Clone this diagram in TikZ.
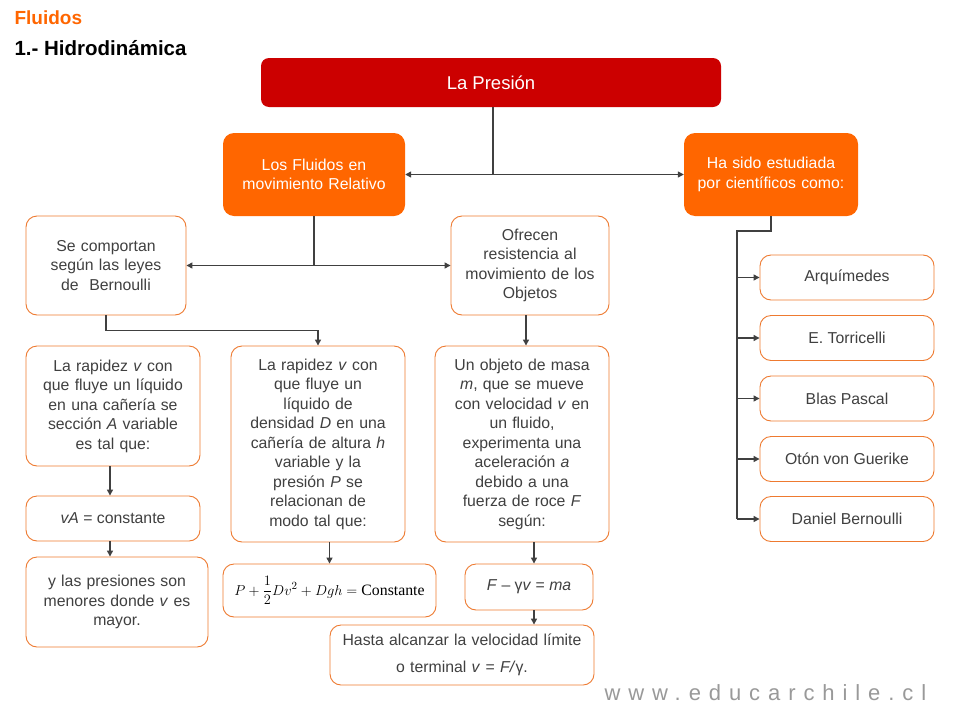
\documentclass[tikz,border=0pt]{standalone}
\usepackage{fontspec}
\usepackage{amsmath}
\setmainfont{Liberation Sans}
\newfontfamily\wmfont[LetterSpace=36]{Liberation Sans}
\newfontfamily\eqserif{Liberation Serif}
\usetikzlibrary{arrows.meta,calc}
\definecolor{orng}{HTML}{FF6600}
\definecolor{bord}{HTML}{EE7A30}
\definecolor{pred}{HTML}{CC0000}
\definecolor{txt}{HTML}{404040}
\definecolor{ln}{HTML}{404040}
\definecolor{wm}{HTML}{999999}
\tikzset{
  base/.style={rounded corners=11pt, align=center, inner sep=0pt,
    font=\fontsize{15.8}{19.5}\selectfont},
  wbox/.style={base, draw=bord, line width=0.9pt, fill=white, text=txt},
  obox/.style={base, fill=orng, text=white},
  sbox/.style={wbox, minimum width=174pt, minimum height=45pt},
  conn/.style={draw=ln, line width=1.3pt},
  arr/.style={conn, -{Triangle[length=6pt,width=6pt]}},
}
\begin{document}
\begin{tikzpicture}[x=1pt,y=-1pt]
\useasboundingbox (0,0) rectangle (960,720);
\fill[white] (0,0) rectangle (960,720);
% titles
\node[anchor=west, text=orng, font=\fontsize{19}{21}\selectfont\bfseries] (t1) at (11,18) {Fluidos};
\node[anchor=west, text=black, font=\fontsize{20.5}{22}\selectfont\bfseries] (t2) at (11,48) {1.- Hidrodinámica};
% main boxes
\node[base, fill=pred, text=white, minimum width=460pt, minimum height=49pt, rounded corners=8pt, font=\fontsize{18.5}{21}\selectfont] (pres) at (491,82.5) {La Presión};
\node[obox, minimum width=182pt, minimum height=83pt, text width=178pt] (fl) at (314,174.5) {Los Fluidos en\\movimiento Relativo};
\node[obox, minimum width=174pt, minimum height=83pt, text width=172pt] (ha) at (771,174.5) {Ha sido estudiada\\por científicos como:};
\node[wbox, minimum width=160pt, minimum height=99pt, text width=156pt] (sc) at (106,265.5) {Se comportan\\según las leyes\\de~~Bernoulli};
\node[wbox, minimum width=158pt, minimum height=99pt, text width=156pt] (of) at (530,265.5) {Ofrecen\\resistencia al\\movimiento de los\\Objetos};
\node[wbox, minimum width=174pt, minimum height=120pt, text width=172pt] (lr1) at (113,406) {La rapidez \textit{v} con\\que fluye un líquido\\en una cañería se\\sección \textit{A} variable\\es tal~que:};
\node[wbox, minimum width=174pt, minimum height=196pt, text width=172pt] (lr2) at (318,444) {La rapidez \textit{v} con\\que fluye un\\líquido de\\densidad \textit{D} en una\\cañería de altura \textit{h}\\variable y la\\presión \textit{P} se\\relacionan de\\modo tal~que:};
\node[wbox, minimum width=174pt, minimum height=196pt, text width=172pt] (obj) at (522,444) {Un objeto de masa\\\textit{m}, que se~mueve\\con velocidad \textit{v} en\\un fluido,\\experimenta una\\aceleración \textit{a}\\debido a una\\fuerza de roce \textit{F}\\según:};
\node[wbox, minimum width=174pt, minimum height=45pt] (va) at (113,518.5) {\textit{vA} = constante};
\node[wbox, minimum width=182pt, minimum height=90pt, text width=180pt] (yl) at (117,602) {y las presiones son\\menores donde \textit{v} es\\mayor.};
\node[wbox, minimum width=213pt, minimum height=53pt, text=black] (eq) at (329.5,590.5) {$P+\dfrac{1}{2}Dv^2+Dgh=\text{\eqserif Constante}$};
\node[wbox, minimum width=128pt, minimum height=46pt] (fb) at (529,587) {\textit{F} – γ\textit{v} = \textit{ma}};
\node[wbox, minimum width=264pt, minimum height=60pt, text width=262pt, font=\fontsize{15.8}{27}\selectfont] (ht) at (462,655) {Hasta alcanzar la velocidad límite\\o terminal \textit{v} = \textit{F/}γ.};
% scientists
\node[sbox] (s1) at (847,277.5) {Arquímedes};
\node[sbox] (s2) at (847,338) {E. Torricelli};
\node[sbox] (s3) at (847,398.5) {Blas Pascal};
\node[sbox] (s4) at (847,459) {Otón von Guerike};
\node[sbox] (s5) at (847,519) {Daniel Bernoulli};
% watermark
\node[anchor=west, text=wm, font=\fontsize{22}{24}\wmfont] (web) at (601,693) {www.educarchile.cl};
% connectors
\coordinate (j1) at ([xshift=2pt]pres.south |- fl.east);
\draw[conn] ([xshift=2pt]pres.south) -- (j1);
\draw[arr] (j1) -- (fl.east);
\draw[arr] (j1) -- (ha.west);
\coordinate (j2) at (fl.south |- sc.east);
\draw[conn] (fl.south) -- (j2);
\draw[arr] (j2) -- (sc.east);
\draw[arr] (j2) -- (of.west);
\draw[arr] (sc.south) -- ++(0,15) -| (lr2.north);
\draw[arr] ([xshift=-4pt]of.south) -- ([xshift=-4pt]of.south |- obj.north);
\draw[arr] ([xshift=-3pt]lr1.south) -- ([xshift=-3pt]lr1.south |- va.north);
\draw[arr] ([xshift=-3pt]va.south) -- ([xshift=-3pt]va.south |- yl.north);
\draw[arr] (eq.north |- lr2.south) -- (eq.north);
\draw[arr] ([xshift=5pt]fb.north |- obj.south) -- ([xshift=5pt]fb.north);
\draw[arr] ([xshift=5pt]fb.south) -- ([xshift=5pt]fb.south |- ht.north);
\coordinate (vt) at (737,231);
\draw[conn] (ha.south) -- (ha.south |- vt) -- (vt) -- (vt |- s5.west);
\draw[arr] (vt |- s1.west) -- (s1.west);
\draw[arr] (vt |- s2.west) -- (s2.west);
\draw[arr] (vt |- s3.west) -- (s3.west);
\draw[arr] (vt |- s4.west) -- (s4.west);
\draw[arr] (vt |- s5.west) -- (s5.west);
\end{tikzpicture}
\end{document}
